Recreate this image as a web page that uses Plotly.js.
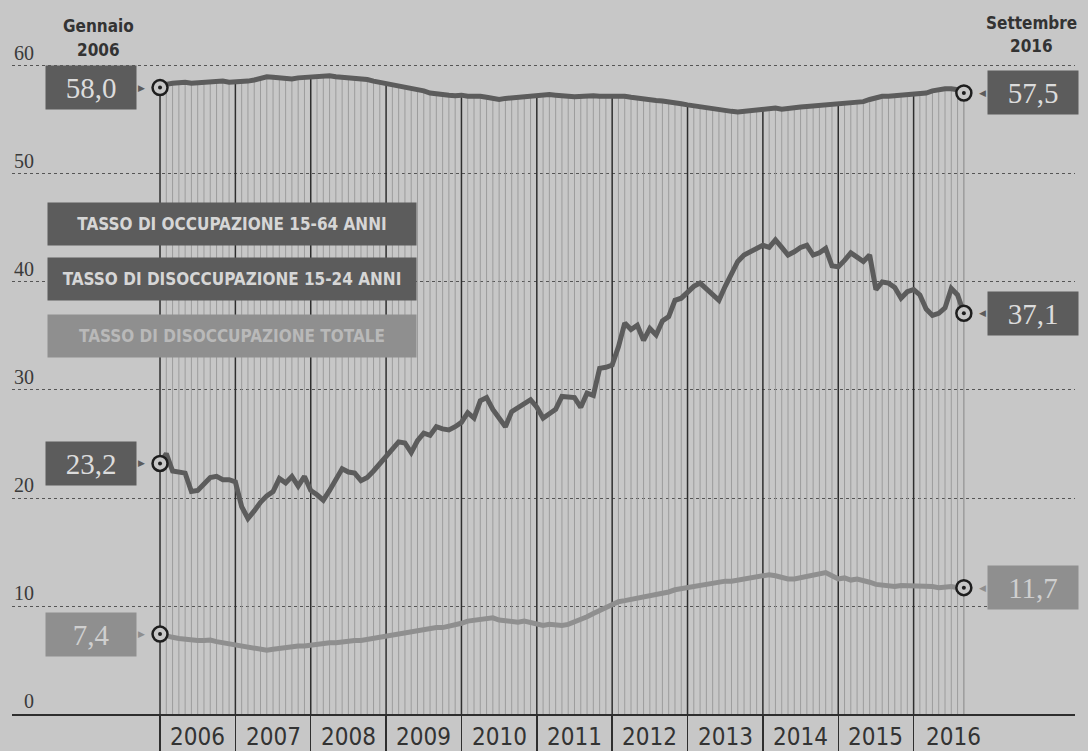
<!DOCTYPE html>
<html>
<head>
<meta charset="utf-8">
<script src="https://cdn.plot.ly/plotly-3.0.1.min.js"></script>
<style>
html,body{margin:0;padding:0;background:#c7c7c7;}
#chart{width:1088px;height:751px;}
</style>
</head>
<body>
<div id="chart"></div>
<script>
// Month index 0 = Gennaio 2006 ... 128 = Settembre 2016
const years = ["2006","2007","2008","2009","2010","2011","2012","2013","2014","2015","2016"];
const seriesNames = ["TASSO DI OCCUPAZIONE 15-64 ANNI","TASSO DI DISOCCUPAZIONE 15-24 ANNI","TASSO DI DISOCCUPAZIONE TOTALE"];
const startLabel = ["Gennaio","2006"];
const endLabel = ["Settembre","2016"];
const yTicks = [0,10,20,30,40,50,60];

const occupazione = [
58.0,58.3,58.4,58.5,58.5,58.4,58.45,58.4,58.5,58.5,58.6,58.5,
58.5,58.6,58.6,58.7,58.9,59.0,58.95,58.9,58.85,58.8,58.9,58.95,
59.0,59.0,59.05,59.1,59.0,58.95,58.9,58.9,58.85,58.75,58.6,58.5,
58.3,58.2,58.1,58.0,57.9,57.85,57.7,57.5,57.4,57.3,57.3,57.25,
57.3,57.2,57.25,57.2,57.1,57.0,56.9,57.0,57.05,57.1,57.15,57.2,
57.3,57.3,57.35,57.3,57.2,57.2,57.15,57.2,57.2,57.25,57.2,57.2,
57.25,57.3,57.2,57.1,57.0,56.95,56.9,56.8,56.75,56.7,56.6,56.5,
56.4,56.3,56.2,56.1,56.0,55.95,55.85,55.8,55.75,55.8,55.8,55.85,
55.9,55.95,56.1,56.0,56.1,56.15,56.2,56.25,56.3,56.3,56.35,56.4,
56.4,56.5,56.55,56.6,56.7,56.9,57.1,57.2,57.2,57.25,57.2,57.3,
57.3,57.4,57.5,57.7,57.85,57.9,57.9,57.8,57.5];

const disocc1524 = [
23.2,24.1,22.5,22.4,22.3,20.6,20.7,21.3,21.9,22.0,21.7,21.7,
21.5,19.2,18.1,18.8,19.6,20.2,20.6,21.8,21.4,22.0,21.1,22.0,
20.7,20.3,19.8,20.7,21.6,22.7,22.4,22.3,21.6,21.9,22.5,23.2,
23.8,24.5,25.2,25.1,24.2,25.3,26.0,25.8,26.6,26.4,26.3,26.6,
27.0,27.9,27.4,29.0,29.3,28.2,27.4,26.6,28.0,28.4,28.8,29.1,
28.4,27.4,27.8,28.2,29.4,29.3,29.3,28.4,29.7,29.5,32.0,32.1,
32.3,34.0,36.2,35.6,36.0,34.6,35.7,35.1,36.4,36.8,38.3,38.5,
39.1,39.6,39.9,39.4,38.9,38.3,39.6,40.8,41.9,42.5,42.8,43.2,
43.4,43.2,43.9,43.2,42.5,42.8,43.2,43.4,42.5,42.7,43.1,41.5,
41.4,42.0,42.7,42.3,41.9,42.5,39.3,40.0,39.9,39.5,38.5,39.1,
39.3,38.8,37.5,36.9,37.1,37.6,39.4,38.8,37.1];

const disoccTot = [
7.4,7.2,7.1,7.0,6.9,6.9,6.8,6.8,6.85,6.7,6.6,6.5,
6.3,6.2,6.1,6.0,5.9,5.9,6.0,6.1,6.2,6.2,6.3,6.3,
6.4,6.5,6.6,6.6,6.6,6.7,6.8,6.8,6.8,6.9,7.0,7.1,
7.3,7.4,7.5,7.5,7.6,7.7,7.8,7.9,8.0,8.0,8.1,8.3,
8.4,8.6,8.7,8.8,8.9,8.9,8.7,8.6,8.5,8.5,8.6,8.5,
8.3,8.2,8.3,8.2,8.2,8.3,8.5,8.7,9.0,9.3,9.6,9.9,
10.2,10.4,10.5,10.6,10.7,10.8,11.0,11.1,11.2,11.3,11.5,11.6,
11.8,11.9,12.0,12.1,12.1,12.2,12.3,12.3,12.4,12.5,12.5,12.7,
12.8,12.9,12.8,12.6,12.5,12.5,12.6,12.7,12.8,13.0,13.1,12.8,
12.5,12.6,12.4,12.5,12.4,12.2,12.0,11.9,11.8,11.8,11.9,11.9,
11.9,11.9,11.8,11.8,11.7,11.8,11.8,11.7,11.7];

const BG = "#c7c7c7";
const DARK = "#5c5c5c";
const LIGHT = "#8f8f8f";
const INK = "#2e2e2e";
const serif = "'Liberation Serif', 'DejaVu Serif', serif";
const narrow = "'Liberation Sans Narrow', 'DejaVu Sans Condensed', 'Roboto', sans-serif";

const months = occupazione.map((_, i) => i);
const last = months.length - 1;

// monthly vertical guide lines (from axis up to employment line)
const gx = [], gy = [], yx = [], yy = [];
months.forEach(m => {
  if (m % 12 === 0) { yx.push(m, m, null); yy.push(0, occupazione[m], null); }
  else { gx.push(m, m, null); gy.push(0, occupazione[m], null); }
});
gx.push(last, last, null); gy.push(0, occupazione[last], null);

const traces = [
  {x: gx, y: gy, mode: "lines", line: {color: "#979797", width: 0.9}, hoverinfo: "skip"},
  {x: yx, y: yy, mode: "lines", line: {color: INK, width: 1.5}, hoverinfo: "skip"},
  {x: months, y: disoccTot, mode: "lines", line: {color: LIGHT, width: 5}, name: seriesNames[2]},
  {x: months, y: disocc1524, mode: "lines", line: {color: DARK, width: 5}, name: seriesNames[1]},
  {x: months, y: occupazione, mode: "lines", line: {color: DARK, width: 5}, name: seriesNames[0]}
];
const endX = [], endY = [];
[occupazione, disocc1524, disoccTot].forEach(s => { endX.push(0, last); endY.push(s[0], s[last]); });
traces.push({x: endX, y: endY, mode: "markers", marker: {size: 15, color: BG, line: {color: "#1e1e1e", width: 2.5}}, hoverinfo: "skip"});
traces.push({x: endX, y: endY, mode: "markers", marker: {size: 4, color: "#1e1e1e"}, hoverinfo: "skip"});

const fmt = v => v.toFixed(1).replace(".", ",");
const annotations = [];
// y tick labels
yTicks.forEach(v => annotations.push({xref: "paper", yref: "y", x: 0, y: v, xanchor: "right", xshift: 24, yanchor: "middle", yshift: 13, showarrow: false, text: String(v), font: {family: serif, size: 20, color: "#3a3a3a"}}));
// year labels
years.forEach((yr, i) => annotations.push({xref: "x", yref: "paper", x: i < years.length - 1 ? i * 12 + 6 : i * 12 + 6.3, y: 0, yanchor: "middle", yshift: -23, showarrow: false, text: yr, font: {family: narrow, size: 24, color: "#333"}}));
// value boxes
const boxSpecs = [[occupazione, DARK, "#dcdcdc"], [disocc1524, DARK, "#dcdcdc"], [disoccTot, LIGHT, "#cfcfcf"]];
boxSpecs.forEach(([s, bg, fc]) => {
  [[0, -1], [last, 1]].forEach(([m, side]) => {
    annotations.push({xref: "x", yref: "y", x: m, y: s[m], xanchor: side < 0 ? "right" : "left", xshift: side * 23, yanchor: "middle", showarrow: false, text: fmt(s[m]), width: 90, height: 43, bgcolor: bg, borderpad: 0, font: {family: serif, size: 29, color: fc}});
    annotations.push({xref: "x", yref: "y", x: m, y: s[m], xanchor: side < 0 ? "left" : "right", xshift: side * 23 + (side < 0 ? -1 : 1), yanchor: "middle", showarrow: false, text: side < 0 ? "▶" : "◀", font: {family: "DejaVu Sans", size: 9, color: bg}});
  });
});
// header labels
annotations.push({xref: "x", yref: "paper", x: 0, xshift: -62, y: 1, yanchor: "middle", yshift: -26, showarrow: false, text: "<b>" + startLabel[0] + "</b>", font: {family: narrow, size: 17, color: "#333"}});
annotations.push({xref: "x", yref: "paper", x: 0, xshift: -62, y: 1, yanchor: "middle", yshift: -50, showarrow: false, text: "<b>" + startLabel[1] + "</b>", font: {family: narrow, size: 17, color: "#333"}});
annotations.push({xref: "x", yref: "paper", x: last, xshift: 68, y: 1, yanchor: "middle", yshift: -23, showarrow: false, text: "<b>" + endLabel[0] + "</b>", font: {family: narrow, size: 17, color: "#333"}});
annotations.push({xref: "x", yref: "paper", x: last, xshift: 68, y: 1, yanchor: "middle", yshift: -46, showarrow: false, text: "<b>" + endLabel[1] + "</b>", font: {family: narrow, size: 17, color: "#333"}});
// legend boxes
const legY = [224, 279.5, 336];
const legBg = [DARK, DARK, LIGHT];
const legFc = ["#d6d6d6", "#d6d6d6", "#b9b9b9"];
seriesNames.forEach((n, i) => annotations.push({xref: "paper", yref: "paper", x: (47 - 12) / 1063, xanchor: "left", y: 1 - legY[i] / 714, yanchor: "middle", showarrow: false, text: "<b>" + n + "</b>", width: 368, height: 42, bgcolor: legBg[i], borderpad: 0, font: {family: narrow, size: 17, color: legFc[i]}}));

const layout = {
  width: 1088, height: 751,
  margin: {l: 12, r: 13, t: 0, b: 37},
  paper_bgcolor: BG, plot_bgcolor: BG,
  showlegend: false,
  xaxis: {range: [-23.57, 145.7], showgrid: false, zeroline: false, showline: true, linecolor: INK, linewidth: 2,
          ticks: "outside", tickmode: "array", tickvals: years.map((_, i) => i * 12), ticklen: 37, tickwidth: 1.5, tickcolor: INK, showticklabels: false, fixedrange: true},
  yaxis: {range: [0, 66.11], showgrid: true, gridcolor: "#555", griddash: "dot", gridwidth: 1, tickmode: "array", tickvals: yTicks.slice(1), showticklabels: false, zeroline: false, fixedrange: true},
  annotations: annotations
};
Plotly.newPlot("chart", traces, layout, {displayModeBar: false, staticPlot: true});
</script>
</body>
</html>
